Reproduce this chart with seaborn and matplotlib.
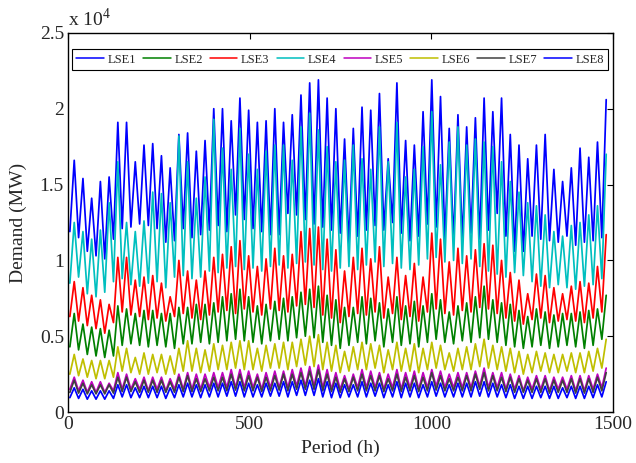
import numpy as np
import pandas as pd
import matplotlib
matplotlib.use("Agg")
import matplotlib.pyplot as plt
import seaborn as sns

# ---------------------------------------------------------------------------
# data: daily peak / trough demand of each LSE, in 10^3 MW
# ---------------------------------------------------------------------------
lse_names = ["LSE1", "LSE2", "LSE3", "LSE4", "LSE5", "LSE6", "LSE7", "LSE8"]
lse_colors = ["#0000ff", "#008000", "#ff0000", "#00bfbf",
              "#bf00bf", "#bfbf00", "#404040", "#0000ff"]

lse1_peak = [16.6, 15.4, 14.1, 15.2, 15.5, 19.1, 19.1, 16.5, 17.6, 17.7, 16.9, 16.1, 18.3, 18.4, 17.2, 17.9, 20.0, 20.0, 19.2, 20.7, 19.9,
             19.1, 19.2, 20.0, 19.1, 19.6, 20.9, 21.7, 21.9, 20.7, 20.0, 18.0, 18.7, 20.1, 19.9, 21.0, 16.7, 21.7, 17.9, 17.6, 19.8, 21.9,
             20.8, 18.7, 19.6, 18.8, 19.4, 20.7, 19.8, 20.7, 18.3, 17.6, 16.7, 17.6, 18.3, 16.0, 15.2, 16.1, 17.4, 16.8, 17.8, 20.6]
lse1_low = [11.9, 11.5, 10.6, 10.3, 10.1, 11.4, 12.1, 12.2, 12.4, 12.3, 12.1, 11.2, 11.3, 12.1, 11.5, 11.7, 12.0, 12.3, 11.9, 13.0, 12.7,
            12.1, 11.9, 11.7, 11.7, 13.1, 13.0, 12.7, 12.4, 12.2, 12.0, 11.8, 11.1, 11.6, 12.0, 12.3, 12.0, 12.5, 11.8, 11.3, 11.6, 12.4,
            12.2, 11.4, 11.3, 11.3, 11.8, 11.4, 12.0, 13.1, 11.6, 10.6, 10.6, 11.6, 11.4, 11.3, 11.2, 11.6, 11.0, 11.2, 11.3, 11.5]

lse2_peak = [6.5, 5.8, 5.6, 5.5, 5.4, 7.0, 6.8, 6.5, 6.7, 6.7, 6.5, 6.5, 6.9, 6.9, 7.1, 7.1, 7.2, 7.6, 7.8, 8.1, 7.6,
             7.0, 7.1, 7.3, 7.5, 7.6, 7.9, 8.1, 8.3, 7.7, 7.4, 6.9, 6.9, 7.6, 7.5, 7.2, 6.8, 7.6, 7.0, 7.3, 7.0, 7.8,
             7.4, 6.6, 7.0, 7.2, 7.6, 8.3, 7.4, 7.2, 7.1, 6.7, 6.3, 6.8, 6.6, 6.4, 6.5, 6.5, 6.6, 6.7, 6.8, 7.7]
lse2_low = [4.3, 4.1, 3.8, 3.7, 3.6, 3.7, 4.4, 4.5, 4.4, 4.3, 4.4, 4.3, 4.2, 4.5, 4.5, 4.6, 4.5, 4.6, 4.7, 4.8, 4.7,
            4.6, 4.5, 4.7, 4.8, 4.7, 4.9, 5.0, 4.9, 4.6, 4.4, 4.2, 4.4, 4.6, 4.5, 4.7, 4.3, 4.6, 4.4, 4.5, 4.3, 4.6,
            4.8, 4.6, 4.5, 4.7, 4.6, 4.9, 4.8, 4.6, 4.4, 4.3, 4.2, 4.3, 4.4, 4.2, 4.3, 4.4, 4.3, 4.2, 4.4, 4.8]

lse3_peak = [8.6, 8.2, 7.7, 7.4, 7.1, 10.2, 10.2, 8.7, 8.9, 9.0, 8.5, 7.6, 10.0, 9.3, 8.7, 9.3, 10.2, 10.4, 10.9, 11.3, 10.3,
             9.6, 10.1, 10.8, 10.3, 10.4, 11.9, 12.1, 12.2, 11.4, 10.7, 9.3, 10.2, 10.8, 10.1, 10.9, 8.9, 10.2, 9.0, 9.8, 8.9, 11.8,
             11.4, 9.9, 10.8, 10.3, 10.7, 11.1, 11.0, 10.0, 9.2, 8.7, 7.8, 9.1, 9.0, 8.2, 7.8, 8.3, 8.6, 8.5, 9.6, 11.7]
lse3_low = [6.3, 6.0, 5.7, 5.5, 5.2, 5.9, 6.6, 6.4, 6.3, 6.1, 6.2, 6.0, 6.3, 6.5, 6.2, 6.1, 6.4, 6.6, 6.7, 6.5, 6.8,
            6.6, 6.4, 6.8, 6.7, 6.6, 7.0, 7.1, 6.9, 6.4, 6.2, 5.9, 6.3, 6.5, 6.4, 6.6, 6.2, 6.5, 6.1, 6.3, 6.0, 6.6,
            6.8, 6.5, 6.4, 6.7, 6.6, 6.9, 6.8, 6.5, 6.2, 6.0, 5.8, 6.1, 6.2, 5.9, 6.0, 6.1, 6.0, 5.9, 6.2, 6.6]

lse4_peak = [12.5, 11.9, 11.4, 12.0, 13.8, 16.5, 12.5, 11.9, 12.6, 14.5, 14.4, 13.8, 18.2, 16.5, 14.1, 15.5, 19.3, 17.4, 16.0, 18.7, 17.0,
             16.0, 17.2, 17.6, 17.6, 16.6, 18.8, 19.7, 18.6, 17.5, 16.5, 16.6, 17.6, 16.7, 16.0, 18.8, 16.5, 19.1, 15.5, 16.0, 17.5, 19.8,
             16.3, 17.8, 18.8, 17.6, 18.0, 17.8, 17.5, 16.5, 15.2, 14.5, 13.8, 13.6, 13.0, 11.9, 11.6, 12.3, 12.5, 13.0, 13.6, 17.0]
lse4_low = [8.5, 8.9, 7.8, 7.6, 7.9, 8.6, 8.8, 8.4, 8.3, 8.5, 8.6, 8.2, 8.9, 9.0, 8.8, 8.9, 9.3, 9.2, 9.5, 9.6, 9.4,
            9.5, 9.3, 9.6, 9.7, 9.5, 9.8, 9.9, 9.7, 9.4, 9.3, 9.5, 9.6, 9.4, 9.7, 9.9, 9.6, 9.8, 9.5, 9.4, 9.7, 10.1,
            10.2, 9.9, 10.0, 9.8, 10.1, 9.6, 9.3, 9.1, 8.9, 9.2, 9.0, 8.6, 8.3, 8.2, 8.4, 8.2, 8.1, 8.3, 8.4, 8.8]

lse5_peak = [2.3, 2.1, 2.0, 2.0, 1.9, 2.6, 2.5, 2.2, 2.3, 2.3, 2.3, 2.2, 2.5, 2.6, 2.5, 2.5, 2.6, 2.6, 2.8, 2.8, 2.7,
             2.5, 2.6, 2.7, 2.7, 2.8, 2.9, 3.0, 3.1, 2.8, 2.6, 2.4, 2.5, 2.8, 2.7, 2.6, 2.5, 2.8, 2.6, 2.7, 2.6, 2.8,
             2.7, 2.5, 2.6, 2.6, 2.7, 2.9, 2.6, 2.6, 2.5, 2.4, 2.3, 2.4, 2.4, 2.3, 2.3, 2.4, 2.4, 2.4, 2.5, 2.9]
lse5_low = [1.5, 1.4, 1.3, 1.3, 1.3, 1.4, 1.5, 1.5, 1.5, 1.4, 1.5, 1.4, 1.5, 1.5, 1.5, 1.5, 1.6, 1.6, 1.6, 1.6, 1.6,
            1.6, 1.5, 1.6, 1.6, 1.6, 1.7, 1.7, 1.7, 1.6, 1.5, 1.5, 1.5, 1.6, 1.6, 1.6, 1.5, 1.6, 1.5, 1.6, 1.5, 1.6,
            1.7, 1.6, 1.6, 1.6, 1.6, 1.7, 1.6, 1.6, 1.5, 1.5, 1.4, 1.5, 1.5, 1.4, 1.5, 1.5, 1.4, 1.4, 1.5, 1.6]

lse6_peak = [3.8, 3.5, 3.4, 3.4, 3.4, 4.3, 4.2, 3.6, 3.9, 3.8, 3.8, 3.7, 4.2, 4.7, 4.2, 4.1, 4.5, 4.4, 4.6, 4.7, 4.7,
             4.2, 4.4, 4.5, 4.6, 4.6, 4.8, 5.0, 5.1, 4.6, 4.4, 4.0, 4.3, 4.6, 4.5, 4.4, 4.1, 4.6, 4.2, 4.5, 4.2, 4.6,
             4.4, 3.9, 4.2, 4.3, 4.5, 4.8, 4.4, 4.3, 4.2, 4.0, 3.8, 4.0, 3.9, 3.8, 3.8, 3.9, 3.9, 4.0, 4.2, 4.8]
lse6_low = [2.5, 2.4, 2.3, 2.2, 2.2, 2.3, 2.7, 2.6, 2.5, 2.5, 2.6, 2.5, 2.5, 2.7, 2.7, 2.6, 2.7, 2.8, 2.8, 2.9, 2.8,
            2.8, 2.7, 2.9, 2.9, 2.8, 3.0, 3.1, 3.0, 2.8, 2.7, 2.6, 2.7, 2.8, 2.8, 2.9, 2.6, 2.8, 2.7, 2.7, 2.6, 2.8,
            2.9, 2.8, 2.7, 2.8, 2.8, 3.0, 2.9, 2.8, 2.7, 2.6, 2.5, 2.6, 2.7, 2.6, 2.6, 2.7, 2.6, 2.6, 2.7, 2.9]

lse7_peak = [2.1, 1.9, 1.8, 1.8, 1.8, 2.3, 2.3, 2.0, 2.1, 2.1, 2.1, 2.0, 2.3, 2.4, 2.2, 2.2, 2.3, 2.3, 2.5, 2.5, 2.4,
             2.3, 2.3, 2.4, 2.5, 2.5, 2.6, 2.7, 2.8, 2.5, 2.3, 2.2, 2.3, 2.5, 2.4, 2.4, 2.2, 2.5, 2.3, 2.4, 2.3, 2.6,
             2.4, 2.2, 2.3, 2.4, 2.5, 2.6, 2.4, 2.3, 2.3, 2.2, 2.1, 2.2, 2.2, 2.1, 2.1, 2.2, 2.2, 2.2, 2.3, 2.6]
lse7_low = [1.3, 1.25, 1.2, 1.2, 1.2, 1.25, 1.35, 1.35, 1.3, 1.3, 1.3, 1.3, 1.3, 1.35, 1.35, 1.35, 1.4, 1.4, 1.4, 1.45, 1.4,
            1.4, 1.35, 1.4, 1.45, 1.4, 1.5, 1.5, 1.5, 1.4, 1.35, 1.3, 1.35, 1.4, 1.4, 1.4, 1.35, 1.4, 1.35, 1.4, 1.35, 1.4,
            1.45, 1.4, 1.4, 1.4, 1.4, 1.5, 1.4, 1.4, 1.35, 1.3, 1.3, 1.3, 1.3, 1.25, 1.3, 1.3, 1.25, 1.25, 1.3, 1.4]

lse8_peak = [1.6, 1.5, 1.4, 1.4, 1.4, 1.8, 1.8, 1.6, 1.7, 1.7, 1.7, 1.6, 1.8, 1.9, 1.8, 1.8, 1.9, 1.9, 2.0, 2.0, 1.9,
             1.8, 1.9, 1.9, 2.0, 2.0, 2.1, 2.1, 2.2, 2.0, 1.9, 1.8, 1.8, 2.0, 1.9, 1.9, 1.8, 2.0, 1.9, 1.9, 1.8, 2.0,
             1.9, 1.8, 1.9, 1.9, 2.0, 2.0, 1.9, 1.8, 1.8, 1.7, 1.7, 1.7, 1.7, 1.7, 1.6, 1.7, 1.7, 1.7, 1.8, 2.0]
lse8_low = [0.95, 0.9, 0.85, 0.85, 0.85, 0.9, 1.0, 0.95, 0.95, 0.95, 0.95, 0.9, 0.95, 1.0, 1.0, 0.95, 1.0, 1.0, 1.05, 1.05, 1.0,
            1.0, 1.0, 1.05, 1.05, 1.0, 1.1, 1.1, 1.1, 1.0, 0.95, 0.95, 1.0, 1.0, 1.0, 1.05, 0.95, 1.0, 0.95, 1.0, 0.95, 1.0,
            1.05, 1.0, 1.0, 1.0, 1.0, 1.05, 1.0, 1.0, 0.95, 0.9, 0.9, 0.9, 0.95, 0.9, 0.9, 0.95, 0.9, 0.9, 0.95, 1.0]

peaks = [lse1_peak, lse2_peak, lse3_peak, lse4_peak, lse5_peak, lse6_peak, lse7_peak, lse8_peak]
lows = [lse1_low, lse2_low, lse3_low, lse4_low, lse5_low, lse6_low, lse7_low, lse8_low]

# ---------------------------------------------------------------------------
# long table: one row per (LSE, hour); night low at 05h, daily peak at 17h
# ---------------------------------------------------------------------------
rows = []
for name, pk, lo in zip(lse_names, peaks, lows):
    for d in range(len(pk)):
        rows.append((name, 24 * d + 5, lo[d] / 10.0))
        rows.append((name, 24 * d + 17, pk[d] / 10.0))
df = pd.DataFrame(rows, columns=["LSE", "hour", "demand"])

# ---------------------------------------------------------------------------
# plot
# ---------------------------------------------------------------------------
sns.set_style("white")
plt.rcParams["font.family"] = ["Liberation Serif", "DejaVu Serif"]
plt.rcParams["mathtext.fontset"] = "custom"
plt.rcParams["mathtext.rm"] = "Liberation Serif"
plt.rcParams["xtick.direction"] = "in"
plt.rcParams["ytick.direction"] = "in"

fig = plt.figure(figsize=(6.36, 4.63), dpi=100)
ax = fig.add_axes([0.107, 0.110, 0.857, 0.819])

sns.lineplot(data=df, x="hour", y="demand", hue="LSE", hue_order=lse_names,
             palette=lse_colors, sort=False, estimator=None, linewidth=1.25,
             ax=ax, legend=False)

ax.set_xlim(0, 1500)
ax.set_ylim(0, 2.5)
ax.set_xticks([0, 500, 1000, 1500])
ax.set_yticks([0, 0.5, 1, 1.5, 2, 2.5])
ax.set_yticklabels(["0", "0.5", "1", "1.5", "2", "2.5"])
ax.tick_params(axis="both", labelsize=14, length=4, width=0.8,
               top=True, right=True, color="black", pad=3)
for s in ax.spines.values():
    s.set_visible(True)
    s.set_color("black")
    s.set_linewidth(1.0)

ax.set_xlabel("Period (h)", fontsize=14, labelpad=5)
ax.set_ylabel("Demand (MW)", fontsize=14, labelpad=9)
ax.annotate(r"x 10$^4$", xy=(0, 1), xycoords="axes fraction",
            xytext=(0, 2), textcoords="offset points",
            fontsize=14, ha="left", va="bottom")

handles = [plt.Line2D([], [], color=c, lw=1.1) for c in lse_colors]
leg = ax.legend(handles, lse_names, loc="lower left", ncol=8,
                bbox_to_anchor=(0.007, 0.902, 0.984, 0.058), mode="expand",
                fontsize=9, frameon=True, fancybox=False, framealpha=1,
                edgecolor="black", handlelength=2.2, handletextpad=0.3,
                borderpad=0.35, borderaxespad=0, columnspacing=0.6)
leg.get_frame().set_linewidth(0.8)

fig.savefig("out.png", dpi=100)
